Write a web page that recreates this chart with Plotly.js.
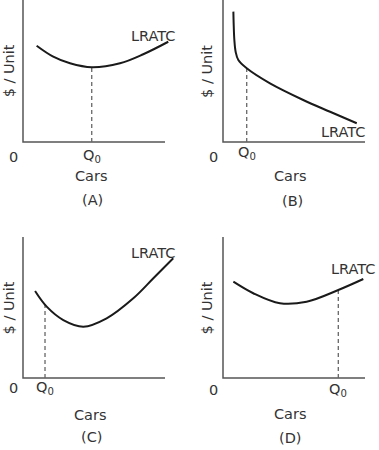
<!DOCTYPE html>
<html>
<head>
<meta charset="utf-8">
<script src="https://cdn.plot.ly/plotly-3.0.1.min.js"></script>
<style>html,body{margin:0;padding:0;background:#fff;}#chart{width:379px;height:450px;}</style>
</head>
<body>
<div id="chart"></div>
<script>
// LRATC curves (Cars, $/Unit) for the four panels
const aX = [0.96, 2.13, 3.31, 4.84, 6.83, 8.47, 10.23];
const aY = [6.78, 6.01, 5.54, 5.26, 5.54, 6.18, 7.06];
const bX = [0.73, 0.75, 0.80, 0.89, 1.08, 1.67, 3.31, 5.65, 7.54, 9.42];
const bY = [9.18, 8.36, 7.18, 6.36, 5.77, 5.19, 4.13, 2.96, 2.13, 1.32];
const cX = [0.85, 1.67, 2.84, 4.25, 5.89, 7.77, 9.18, 10.58];
const cY = [6.17, 5.06, 4.11, 3.64, 4.23, 5.65, 7.07, 8.49];
const dX = [0.73, 2.13, 4.01, 5.89, 8.12, 9.88];
const dY = [6.83, 6.01, 5.30, 5.41, 6.24, 7.02];
// Q0 positions and LRATC value at Q0
const q0X = [4.84, 1.67, 1.55, 8.12];
const q0Y = [5.26, 5.19, 5.22, 6.24];
const panelLabels = ['(A)', '(B)', '(C)', '(D)'];
const axisX = [0, 0, 10];
const axisY = [10, 0, 0];

const curves = [[aX, aY], [bX, bY], [cX, cY], [dX, dY]];
const suffix = ['', '2', '3', '4'];
const textColor = '#333';
const font = {family: 'DejaVu Sans, sans-serif', size: 14.5, color: textColor};

const traces = [];
curves.forEach((c, i) => {
  const xa = 'x' + suffix[i], ya = 'y' + suffix[i];
  traces.push({x: axisX, y: axisY, xaxis: xa, yaxis: ya, mode: 'lines',
    line: {color: '#555', width: 1.5}, hoverinfo: 'skip', showlegend: false});
  traces.push({x: [q0X[i], q0X[i]], y: [0, q0Y[i]], xaxis: xa, yaxis: ya, mode: 'lines',
    line: {color: '#666', width: 1.3, dash: '4px,3px'}, hoverinfo: 'skip', showlegend: false});
  traces.push({x: c[0], y: c[1], xaxis: xa, yaxis: ya, mode: 'lines',
    line: {color: '#1a1a1a', width: 2, shape: 'spline', smoothing: 1}, showlegend: false});
});

// label positions (data units of each panel)
const zeroPos = [[-0.7, -1.06], [-0.7, -1.06], [-0.7, -0.71], [-0.7, -0.85]];
const qPos = [[4.84, -1.0], [1.67, -0.78], [1.55, -0.68], [8.12, -0.82]];
const carsPos = [[4.82, -2.42], [4.72, -2.42], [4.72, -2.64], [4.75, -2.58]];
const panelPos = [[4.86, -4.08], [4.86, -4.15], [4.79, -4.18], [4.75, -4.26]];
const unitPos = [[-0.96, 5.0], [-1.13, 5.0], [-0.96, 4.96], [-1.13, 5.0]];
const lratcPos = [[9.19, 7.43], [8.49, 0.73], [9.19, 8.87], [9.19, 7.73]];

const annotations = [];
for (let i = 0; i < 4; i++) {
  const xr = 'x' + suffix[i], yr = 'y' + suffix[i];
  const add = (p, text, extra) => annotations.push(Object.assign({
    x: p[0], y: p[1], xref: xr, yref: yr, text: text, showarrow: false,
    xanchor: 'center', yanchor: 'middle', font: font}, extra || {}));
  add(zeroPos[i], '0');
  add(qPos[i], 'Q<sub>0</sub>');
  add(carsPos[i], 'Cars');
  add(panelPos[i], panelLabels[i]);
  add(unitPos[i], '$ / Unit', {textangle: -90});
  add(lratcPos[i], 'LRATC');
}

const ax = (dom, range) => ({domain: dom, range: range, showgrid: false, zeroline: false,
  showline: false, showticklabels: false, ticks: '', fixedrange: true});
const xL = [0.004485, 0.469077], xR = [0.532190, 0.996781];
const yT = [0.526667, 1], yB = [0.003333, 0.489];
const xr = [-1.5, 10.9];
const yrT = [-5, 10], yrB = [-5, 10.5];

const layout = {
  width: 379, height: 450, margin: {l: 0, r: 0, t: 0, b: 0},
  paper_bgcolor: '#fff', plot_bgcolor: 'rgba(0,0,0,0)',
  xaxis: Object.assign(ax(xL, xr), {anchor: 'y'}),
  yaxis: Object.assign(ax(yT, yrT), {anchor: 'x'}),
  xaxis2: Object.assign(ax(xR, xr), {anchor: 'y2'}),
  yaxis2: Object.assign(ax(yT, yrT), {anchor: 'x2'}),
  xaxis3: Object.assign(ax(xL, xr), {anchor: 'y3'}),
  yaxis3: Object.assign(ax(yB, yrB), {anchor: 'x3'}),
  xaxis4: Object.assign(ax(xR, xr), {anchor: 'y4'}),
  yaxis4: Object.assign(ax(yB, yrB), {anchor: 'x4'}),
  annotations: annotations,
  font: font
};

Plotly.newPlot('chart', traces, layout, {staticPlot: true, displayModeBar: false});
</script>
</body>
</html>
